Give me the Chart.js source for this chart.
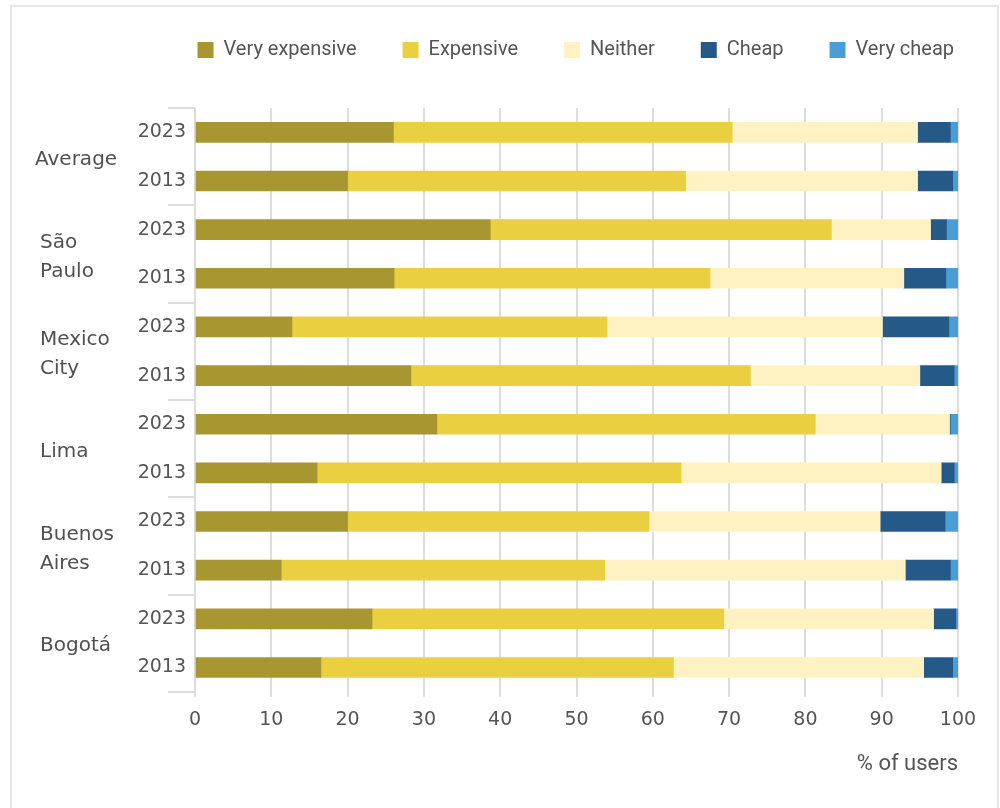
<!DOCTYPE html>
<html>
<head>
<meta charset="utf-8">
<title>Perceived cost of public transport</title>
<script src="https://cdn.jsdelivr.net/npm/chart.js@4.4.1/dist/chart.umd.min.js"></script>
<style>
  html, body { margin: 0; padding: 0; background: #fff; width: 1000px; height: 808px; overflow: hidden; }
  #frame { position: absolute; left: 10px; top: 5px; width: 985px; height: 1000px;
           border: 2px solid #e6e6e6; border-bottom: none; }
  #wrap { position: absolute; left: 0; top: -7px; width: 1000px; height: 815px; }
</style>
</head>
<body>
<div id="frame"></div>
<div id="wrap"><canvas id="chart"></canvas></div>
<script>
// Cities (top to bottom) and the two survey years shown for each
const cities = ['Average', 'São Paulo', 'Mexico City', 'Lima', 'Buenos Aires', 'Bogotá'];
const years = ['2023', '2013'];

// Share of users (%) per answer; order: Average 2023, Average 2013, São Paulo 2023, ...
const veryExpensive = [26.0, 20.0, 38.7, 26.1, 12.7, 28.3, 31.7, 16.0, 20.0, 11.3, 23.2, 16.5];
const expensive     = [44.4, 44.3, 44.7, 41.4, 41.3, 44.5, 49.6, 47.7, 39.5, 42.4, 46.1, 46.2];
const neither       = [24.3, 30.4, 13.0, 25.4, 36.1, 22.2, 17.6, 34.1, 30.3, 39.4, 27.5, 32.8];
const cheap         = [ 4.3,  4.6,  2.1,  5.5,  8.7,  4.5,  0.1,  1.7,  8.5,  5.9,  2.9,  3.8];
const veryCheap     = [ 1.0,  0.7,  1.5,  1.6,  1.2,  0.5,  1.0,  0.5,  1.7,  1.0,  0.3,  0.7];

const xTicks = [0, 10, 20, 30, 40, 50, 60, 70, 80, 90, 100];

const categoryLabels = cities.flatMap(() => years);

const TEXT = '#555555';
const GRID = '#dddddd';
const AXIS_FONT = 'DejaVu Sans';
const LEGEND_FONT = 'Roboto';

const series = [
  { label: 'Very expensive', data: veryExpensive, color: '#a89630' },
  { label: 'Expensive',      data: expensive,     color: '#eacf40' },
  { label: 'Neither',        data: neither,       color: '#fef2c3' },
  { label: 'Cheap',          data: cheap,         color: '#255988' },
  { label: 'Very cheap',     data: veryCheap,     color: '#4b9ed5' }
];

// City names to the left of each pair of year bars
const cityLabels = {
  id: 'cityLabels',
  afterDraw(chart) {
    const y = chart.scales.y;
    const ctx = chart.ctx;
    ctx.save();
    ctx.fillStyle = '#505050';
    ctx.font = '20px "' + AXIS_FONT + '"';
    ctx.textAlign = 'left';
    ctx.textBaseline = 'middle';
    cities.forEach((name, g) => {
      const mid = (y.getPixelForValue(2 * g) + y.getPixelForValue(2 * g + 1)) / 2 + 3;
      const lines = name.split(' ');
      const step = 29;
      const x = g === 0 ? 35 : 40;
      lines.forEach((line, k) => {
        ctx.fillText(line, x, mid + (k - (lines.length - 1) / 2) * step);
      });
    });
    ctx.restore();
  }
};

new Chart(document.getElementById('chart'), {
  type: 'bar',
  data: {
    labels: categoryLabels,
    datasets: series.map(s => ({
      label: s.label,
      data: s.data,
      backgroundColor: s.color,
      borderWidth: 0,
      barThickness: 20,
      xAxisID: 'x',
      yAxisID: 'y'
    }))
  },
  options: {
    indexAxis: 'y',
    responsive: true,
    maintainAspectRatio: false,
    animation: false,
    layout: { padding: { top: 1, left: 0, right: 0, bottom: 30 } },
    scales: {
      x: {
        type: 'linear',
        stacked: true,
        min: 0,
        max: 100,
        afterBuildTicks(scale) { scale.ticks = xTicks.map(v => ({ value: v })); },
        ticks: { color: TEXT, font: { family: AXIS_FONT, size: 19 }, padding: 12, maxRotation: 0 },
        grid: { color: GRID, lineWidth: 2, tickLength: 5, drawTicks: true },
        border: { display: false },
        title: {
          display: true, text: '% of users', align: 'end', color: TEXT,
          font: { family: LEGEND_FONT, size: 22 }, padding: { top: 8, bottom: 0 }
        }
      },
      y: {
        type: 'category',
        stacked: true,
        afterFit(scale) { scale.width = 195; },
        ticks: { color: TEXT, font: { family: AXIS_FONT, size: 19 }, padding: -18, autoSkip: false },
        grid: {
          display: true,
          offset: true,
          drawOnChartArea: false,
          drawTicks: true,
          tickLength: 27,
          lineWidth: 2,
          color: c => (c.index === undefined || c.index % 2 === 0) ? GRID : 'rgba(0,0,0,0)'
        },
        border: { display: true, color: GRID, width: 2 }
      },
      yRight: {
        type: 'linear',
        position: 'right',
        display: true,
        afterFit(scale) { scale.width = 42; },
        ticks: { display: false },
        grid: { display: false },
        border: { display: false }
      }
    },
    plugins: {
      legend: {
        position: 'top',
        align: 'end',
        fullSize: true,
        labels: {
          boxWidth: 16, boxHeight: 16, padding: 46, color: TEXT,
          font: { family: LEGEND_FONT, size: 20 }
        }
      },
      subtitle: {
        display: true, text: '', position: 'top', fullSize: false, weight: 500,
        font: { size: 10 }, padding: { top: 0, bottom: 26 }
      },
      tooltip: { enabled: false }
    }
  },
  plugins: [cityLabels]
});
</script>
</body>
</html>
